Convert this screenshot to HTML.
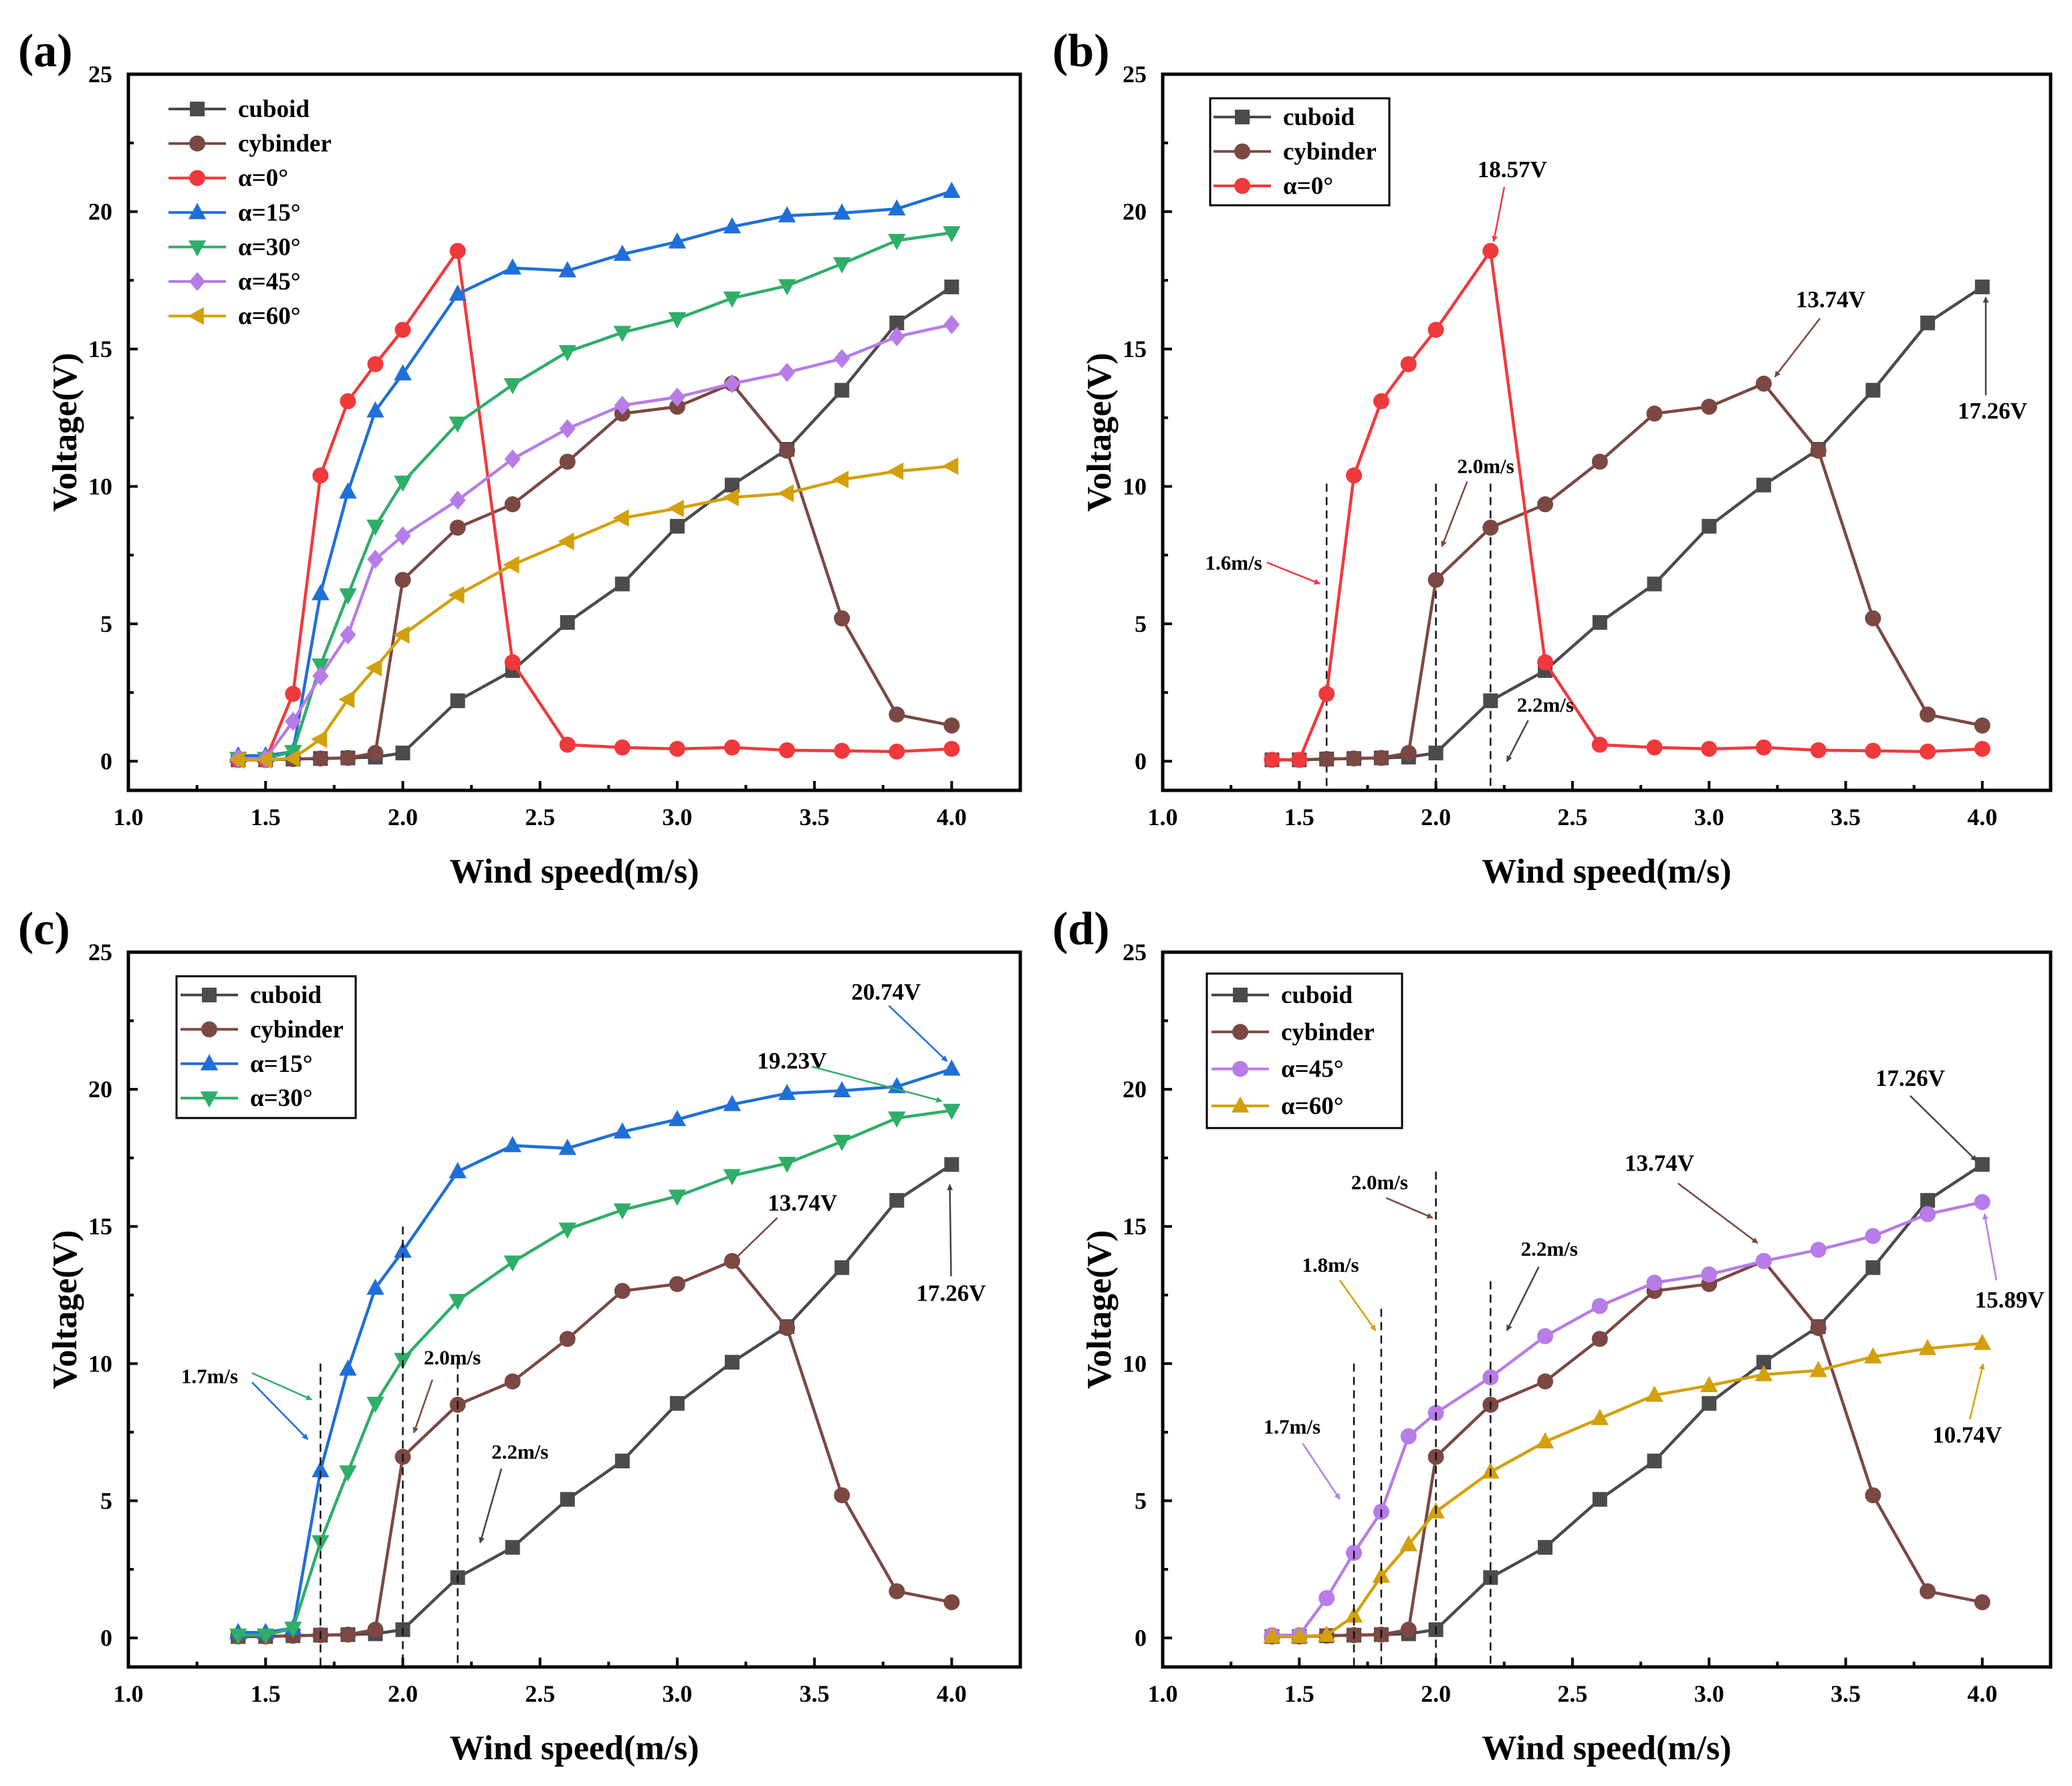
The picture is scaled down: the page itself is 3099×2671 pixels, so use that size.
<!DOCTYPE html>
<html><head><meta charset="utf-8">
<style>
html,body{margin:0;padding:0;background:#fff;}
svg{display:block;font-family:"Liberation Serif",serif;font-weight:bold;}
</style></head>
<body>
<svg id="fig" width="3099" height="2671" viewBox="0 0 3099 2671" xmlns="http://www.w3.org/2000/svg" font-family="Liberation Serif, serif" font-weight="bold">
<defs>
<marker id="ah" viewBox="0 0 10 10" refX="9" refY="5" markerWidth="9" markerHeight="9" orient="auto-start-reverse" markerUnits="userSpaceOnUse"><path d="M0,0L10,5L0,10z" fill="context-stroke"/></marker>
</defs>
</svg>
<script>
const windSpeed=[1.4,1.5,1.6,1.7,1.8,1.9,2.0,2.2,2.4,2.6,2.8,3.0,3.2,3.4,3.6,3.8,4.0];
const cuboid=[0.05,0.05,0.08,0.1,0.12,0.15,0.3,2.2,3.3,5.05,6.45,8.55,10.05,11.35,13.5,15.95,17.26];
const cylinder=[0.05,0.05,0.08,0.1,0.12,0.3,6.6,8.5,9.35,10.9,12.65,12.9,13.74,11.3,5.2,1.7,1.3];
const alpha0=[0.05,0.05,2.45,10.4,13.1,14.45,15.7,18.57,3.6,0.6,0.5,0.45,0.5,0.4,0.38,0.35,0.45];
const alpha15=[0.2,0.2,0.35,6.1,9.8,12.75,14.1,17.0,17.95,17.85,18.45,18.9,19.45,19.85,19.95,20.1,20.74];
const alpha30=[0.1,0.1,0.35,3.5,6.05,8.55,10.15,12.3,13.7,14.9,15.6,16.1,16.85,17.3,18.1,18.95,19.23];
const alpha45=[0.1,0.1,1.45,3.1,4.6,7.35,8.2,9.5,11.0,12.1,12.95,13.25,13.74,14.15,14.65,15.45,15.89];
const alpha60=[0.05,0.05,0.1,0.8,2.25,3.4,4.6,6.05,7.15,8.0,8.85,9.2,9.6,9.75,10.25,10.55,10.74];
const xTicks=[1.0,1.5,2.0,2.5,3.0,3.5,4.0];
const yTicks=[0,5,10,15,20,25];

const NS="http://www.w3.org/2000/svg";
const svg=document.getElementById('fig');
function el(tag,attrs,parent){const e=document.createElementNS(NS,tag);for(const k in attrs)e.setAttribute(k,attrs[k]);(parent||svg).appendChild(e);return e;}

const S={
 cuboid:{name:'cuboid',data:cuboid,color:'#4b4b4b',m:'square'},
 cyl:{name:'cybinder',data:cylinder,color:'#7b4843',m:'circle'},
 a0:{name:'α=0°',data:alpha0,color:'#f0393c',m:'circle'},
 a15:{name:'α=15°',data:alpha15,color:'#1f6fd8',m:'up'},
 a30:{name:'α=30°',data:alpha30,color:'#2fae68',m:'down'},
 a45:{name:'α=45°',data:alpha45,color:'#b77ce8',m:'diamond'},
 a60:{name:'α=60°',data:alpha60,color:'#d3a00c',m:'left'}
};

function marker(g,m,x,y,c,r){
 r=r||11;
 let e;
 if(m==='square')e=el('rect',{x:x-r,y:y-r,width:2*r,height:2*r,fill:c},g);
 else if(m==='circle')e=el('circle',{cx:x,cy:y,r:r+1,fill:c},g);
 else{
  let p;
  if(m==='up')p=[[x,y-r*1.3],[x+r*1.2,y+r*0.9],[x-r*1.2,y+r*0.9]];
  else if(m==='down')p=[[x,y+r*1.3],[x+r*1.2,y-r*0.9],[x-r*1.2,y-r*0.9]];
  else if(m==='left')p=[[x-r*1.3,y],[x+r*0.9,y-r*1.2],[x+r*0.9,y+r*1.2]];
  else p=[[x,y-r*1.3],[x+r*1.1,y],[x,y+r*1.3],[x-r*1.1,y]];
  e=el('polygon',{points:p.map(q=>q.join(',')).join(' '),fill:c},g);
 }
 
 
}

function panel(cfg){
 const L=cfg.L,R=cfg.R,T=cfg.T,B=cfg.B;
 const xmin=1.0,xmax=4.25,ymin=-1.06,ymax=25;
 const sx=v=>L+(v-xmin)/(xmax-xmin)*(R-L);
 const sy=v=>B-(v-ymin)/(ymax-ymin)*(B-T);
 const g=el('g',{});
 
 
 const pl=el('text',{x:L-165,y:T-12,'font-size':70},g);pl.textContent='('+cfg.id+')';
 
 xTicks.forEach(t=>{
  el('line',{x1:sx(t),x2:sx(t),y1:B,y2:B-14,stroke:'#000','stroke-width':4},g);
  if(t<4)el('line',{x1:sx(t+0.25),x2:sx(t+0.25),y1:B,y2:B-8,stroke:'#000','stroke-width':4},g);
  const tx=el('text',{x:sx(t),y:B+52,'font-size':36,'text-anchor':'middle'},g);tx.textContent=t.toFixed(1);
  
 });
 yTicks.forEach(t=>{
  el('line',{x1:L,x2:L+14,y1:sy(t),y2:sy(t),stroke:'#000','stroke-width':4},g);
  if(t<25)el('line',{x1:L,x2:L+8,y1:sy(t+2.5),y2:sy(t+2.5),stroke:'#000','stroke-width':4},g);
  const ty=el('text',{x:L-24,y:sy(t)+12,'font-size':36,'text-anchor':'end'},g);ty.textContent=t;
  
 });
 const xt=el('text',{x:(L+R)/2,y:B+138,'font-size':52,'text-anchor':'middle'},g);xt.textContent='Wind speed(m/s)';
 
 const yt=el('text',{x:0,y:0,'font-size':52,'text-anchor':'middle',transform:`translate(${L-78},${(T+B)/2}) rotate(-90)`},g);yt.textContent='Voltage(V)';
 
 (cfg.dash||[]).forEach(d=>{
  const dl=el('line',{x1:sx(d[0]),x2:sx(d[0]),y1:sy(d[1]),y2:B,stroke:'#111','stroke-width':2.5,'stroke-dasharray':'12,8'},g);
  
 });
 cfg.series.forEach(k=>{
  const s=S[k];const sg=el('g',{},g);
  
  const m=(k==='a45'&&cfg.id==='d')?'circle':(k==='a60'&&cfg.id==='d')?'up':s.m;
  el('polyline',{points:windSpeed.map((x,i)=>sx(x)+','+sy(s.data[i])).join(' '),fill:'none',stroke:s.color,'stroke-width':4.5},sg);
  windSpeed.forEach((x,i)=>marker(sg,m,sx(x),sy(s.data[i]),s.color));
 });
 el('rect',{x:L,y:T,width:R-L,height:B-T,fill:'none',stroke:'#000','stroke-width':5},g);
 const lg=el('g',{},g);
 const lc=cfg.legend;
 if(lc.box)el('rect',{x:lc.box[0],y:lc.box[1],width:lc.box[2],height:lc.box[3],fill:'#fff',stroke:'#000','stroke-width':3},lg);
 cfg.series.forEach((k,i)=>{
  const s=S[k];const y=lc.y+i*lc.step;
  const m=(k==='a45'&&cfg.id==='d')?'circle':(k==='a60'&&cfg.id==='d')?'up':s.m;
  const eg=el('g',{},lg);
  el('line',{x1:lc.x,x2:lc.x+86,y1:y,y2:y,stroke:s.color,'stroke-width':4},eg);
  marker(eg,m,lc.x+43,y,s.color);
  const t=el('text',{x:lc.x+104,y:y+12,'font-size':37},eg);t.textContent=s.name;
 });
 const k=1.984;
 (cfg.ann||[]).forEach(a=>{
  const ag=el('g',{},g);
  if(a.t){const t=el('text',{x:a.t[0]*k,y:a.t[1]*k+11,'font-size':a.fs||35,'text-anchor':'middle'},ag);t.textContent=a.label;}
  if(a.a)el('line',{x1:a.a[0]*k,y1:a.a[1]*k,x2:a.a[2]*k,y2:a.a[3]*k,stroke:a.c||'#444','stroke-width':2.5,'marker-end':'url(#ah)'},ag);
 });
}

panel({id:'a',L:192,R:1526,T:111,B:1182,series:['cuboid','cyl','a0','a15','a30','a45','a60'],
 legend:{x:252,y:163,step:51.6}});
panel({id:'b',L:1739,R:3067,T:111,B:1182,series:['cuboid','cyl','a0'],
 legend:{box:[1810,147,268,160],x:1815,y:175,step:51.5},
 dash:[[1.6,10.1],[2.0,10.1],[2.2,10.1]],
 ann:[{label:'18.57V',t:[1140,128]},{a:[1134,141,1126,182],c:'#f0393c'},
  {label:'13.74V',t:[1380,226]},{a:[1372,240,1338,284],c:'#7b4843'},
  {label:'17.26V',t:[1502,310]},{a:[1497,298,1497,224],c:'#444'},
  {label:'1.6m/s',t:[930,424],fs:31},{a:[955,424,995,440],c:'#f0393c'},
  {label:'2.0m/s',t:[1120,351],fs:31},{a:[1106,363,1087,412],c:'#7b4843'},
  {label:'2.2m/s',t:[1165,531],fs:31},{a:[1152,543,1136,574],c:'#444'}]});
panel({id:'c',L:192,R:1526,T:1424,B:2493,series:['cuboid','cyl','a15','a30'],
 legend:{box:[264,1460,268,212],x:270,y:1488,step:51.4}});
panel({id:'d',L:1739,R:3067,T:1424,B:2493,series:['cuboid','cyl','a45','a60'],
 legend:{box:[1805,1456,292,231],x:1812,y:1488,step:55.3}});
(function(){
 const k=1.984;
 const ann=[
  ['20.74V',668,748,670,758,714,800,'#1f6fd8',35],
  ['19.23V',597,800,612,804,710,830,'#2fae68',35],
  ['13.74V',605,907,586,918,553,950,'#7b4843',35],
  ['17.26V',717,975,717,962,716,893,'#444',35],
  ['1.7m/s',158,1037,190,1035,235,1055,'#2fae68',31],
  [null,0,0,190,1042,232,1085,'#1f6fd8',31],
  ['2.0m/s',341,1023,326,1040,312,1080,'#7b4843',31],
  ['2.2m/s',392,1094,378,1107,362,1163,'#444',31],
  ['17.26V',1440,813,1440,826,1490,875,'#444',35],
  ['13.74V',1251,877,1265,892,1325,937,'#7b4843',35],
  ['15.89V',1515,980,1505,965,1496,915,'#b77ce8',35],
  ['10.74V',1483,1082,1485,1070,1495,1028,'#d3a00c',35],
  ['2.0m/s',1040,891,1045,903,1080,918,'#7b4843',31],
  ['1.8m/s',1003,953,1010,965,1037,1003,'#d3a00c',31],
  ['2.2m/s',1168,941,1160,955,1136,1003,'#444',31],
  ['1.7m/s',974,1075,982,1088,1010,1130,'#b77ce8',31]
 ];
 ann.forEach(a=>{
  const g=el('g',{});
  
  
  if(a[0]){const t=el('text',{x:a[1]*k,y:a[2]*k+11,'font-size':a[8],'text-anchor':'middle'},g);t.textContent=a[0];}
  el('line',{x1:a[3]*k,y1:a[4]*k,x2:a[5]*k,y2:a[6]*k,stroke:a[7],'stroke-width':2.5,'marker-end':'url(#ah)'},g);
 });
 const L1=192,R1=1526,L2=1739,R2=3067,T=1424,B=2493;
 const sxC=v=>L1+(v-1)/3.25*(R1-L1), sxD=v=>L2+(v-1)/3.25*(R2-L2);
 const sy=v=>B-(v+1.06)/26.06*(B-T);
 [[sxC,1.7,10],[sxC,2.0,15],[sxC,2.2,10.1],[sxD,1.7,10],[sxD,1.8,12],[sxD,2.0,17],[sxD,2.2,13]].forEach(d=>{
  const l=el('line',{x1:d[0](d[1]),x2:d[0](d[1]),y1:sy(d[2]),y2:B,stroke:'#111','stroke-width':2.5,'stroke-dasharray':'12,8'});
  
  
 });
})();
</script>
</body></html>
